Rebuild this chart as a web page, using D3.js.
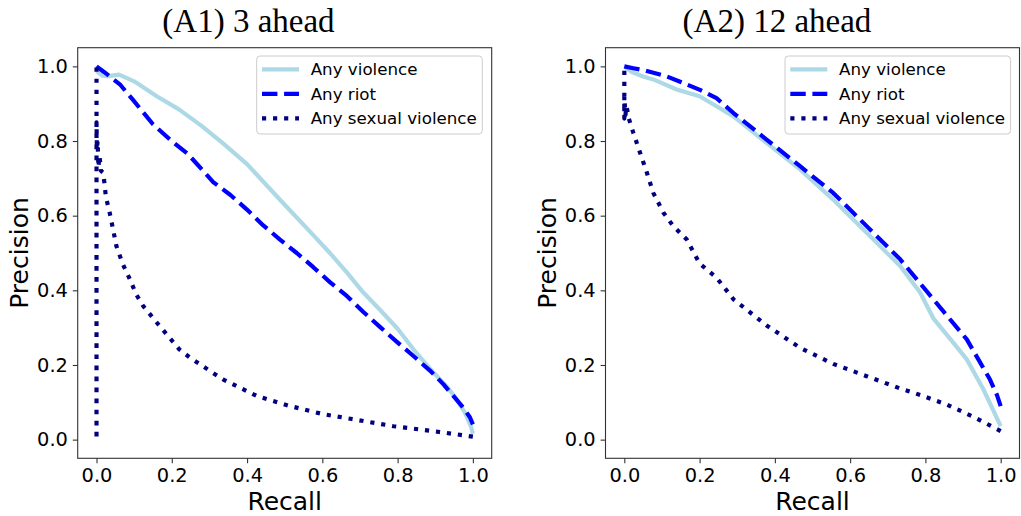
<!DOCTYPE html>
<html>
<head>
<meta charset="utf-8">
<script src="https://cdn.jsdelivr.net/npm/d3@7"></script>
<style>
  body { margin: 0; background: #fff; }
  svg { display: block; }
</style>
</head>
<body>
<svg id="chart" width="1021" height="516"></svg>
<script>
// series names, colours, dash styles
const seriesNames = ["Any violence", "Any riot", "Any sexual violence"];
const tickValues = [0.0, 0.2, 0.4, 0.6, 0.8, 1.0];

// (A1) 3 ahead : [recall, precision]
const a1Violence = [[0.0,1.0],[0.003,0.985],[0.015,0.975],[0.03,0.974],[0.06,0.978],[0.1,0.96],[0.16,0.92],
  [0.22,0.884],[0.28,0.84],[0.337,0.793],[0.4,0.738],[0.49,0.64],[0.576,0.548],[0.62,0.5],[0.665,0.448],
  [0.709,0.394],[0.753,0.348],[0.8,0.297],[0.842,0.242],[0.886,0.19],[0.931,0.142],[0.957,0.108],
  [0.98,0.07],[0.995,0.035],[1.0,0.016]];
const a1Riot = [[0.0,1.0],[0.02,0.985],[0.062,0.952],[0.097,0.91],[0.15,0.845],[0.195,0.804],[0.244,0.764],
  [0.31,0.69],[0.355,0.656],[0.399,0.617],[0.443,0.574],[0.4875,0.536],[0.532,0.5],[0.576,0.462],
  [0.62,0.422],[0.665,0.385],[0.709,0.342],[0.753,0.302],[0.798,0.262],[0.842,0.224],[0.886,0.185],
  [0.922,0.148],[0.948,0.117],[0.975,0.085],[0.992,0.06],[1.0,0.041]];
const a1Sexual = [[1.0,0.008],[0.9,0.022],[0.789,0.036],[0.674,0.056],[0.603,0.068],[0.514,0.09],[0.4255,0.117],
  [0.337,0.161],[0.3,0.185],[0.248,0.22],[0.22,0.242],[0.168,0.304],[0.124,0.358],[0.105,0.39],[0.089,0.429],
  [0.07,0.47],[0.053,0.518],[0.035,0.608],[0.025,0.65],[0.018,0.715],[0.012,0.72],[0.008,0.76],[0.005,0.73],
  [0.003,0.8],[0.001,0.78],[0.0,0.85],[0.0,0.0],[0.0,1.0]];

// (A2) 12 ahead : [recall, precision]
const a2Violence = [[0.0,1.0],[0.02,0.985],[0.05,0.973],[0.077,0.965],[0.1,0.955],[0.139,0.938],[0.2,0.92],
  [0.245,0.893],[0.29,0.866],[0.378,0.795],[0.467,0.724],[0.555,0.643],[0.644,0.554],[0.733,0.465],
  [0.786,0.394],[0.821,0.325],[0.874,0.26],[0.91,0.215],[0.954,0.135],[1.0,0.036]];
const a2Riot = [[0.0,1.0],[0.024,0.995],[0.05,0.99],[0.113,0.973],[0.15,0.958],[0.201,0.937],[0.245,0.915],
  [0.29,0.875],[0.378,0.804],[0.467,0.7325],[0.555,0.661],[0.644,0.572],[0.733,0.483],[0.821,0.376],
  [0.91,0.2685],[0.9716,0.161],[0.99,0.12],[1.0,0.09]];
const a2Sexual = [[1.0,0.023],[0.93,0.06],[0.857,0.094],[0.768,0.126],[0.733,0.137],[0.644,0.17],[0.555,0.203],
  [0.467,0.246],[0.378,0.306],[0.29,0.376],[0.245,0.434],[0.2,0.472],[0.166,0.536],[0.13,0.572],[0.104,0.608],
  [0.077,0.661],[0.06,0.715],[0.042,0.768],[0.024,0.822],[0.012,0.86],[0.006,0.893],[0.003,0.87],
  [0.0,0.92],[0.0,0.86],[0.0,1.0]];

const lw = 4.17;
const styles = [
  { color: "#add8e6", dash: null },
  { color: "#0000ff", dash: [3.7 * lw, 1.6 * lw] },
  { color: "#000080", dash: [1 * lw, 1.65 * lw] }
];

const svg = d3.select("#chart");

function drawPanel(opt) {
  const x = d3.scaleLinear().domain([-0.05, 1.05]).range([opt.left, opt.right]);
  const y = d3.scaleLinear().domain([-0.05, 1.05]).range([opt.bottom, opt.top]);
  const g = svg.append("g");

  // title
  g.append("text")
    .attr("x", opt.titleX).attr("y", 32)
    .attr("text-anchor", "middle")
    .style("font-family", "'Liberation Serif', serif")
    .style("font-size", "33px")
    .text(opt.title);

  // lines
  const line = d3.line().x(d => x(d[0])).y(d => y(d[1]));
  opt.series.forEach((data, i) => {
    g.append("path")
      .datum(data)
      .attr("d", line)
      .attr("fill", "none")
      .attr("stroke", styles[i].color)
      .attr("stroke-width", lw)
      .attr("stroke-linejoin", "round")
      .attr("stroke-dasharray", styles[i].dash ? styles[i].dash.join(",") : null);
  });

  // axes
  const xAxis = g.append("g")
    .attr("transform", "translate(0," + opt.bottom + ")")
    .call(d3.axisBottom(x).tickValues(tickValues).tickFormat(d3.format(".1f")).tickSize(4.9).tickPadding(4.9));
  const yAxis = g.append("g")
    .attr("transform", "translate(" + opt.left + ",0)")
    .call(d3.axisLeft(y).tickValues(tickValues).tickFormat(d3.format(".1f")).tickSize(4.9).tickPadding(4.9));
  [xAxis, yAxis].forEach(a => {
    a.select(".domain").remove();
    a.selectAll(".tick line").attr("stroke", "#333").attr("stroke-width", 1.1);
    a.selectAll(".tick text")
      .attr("fill", "#000")
      .style("font-family", "'DejaVu Sans', sans-serif")
      .style("font-size", "19.4px");
  });

  // frame
  g.append("rect")
    .attr("x", opt.left).attr("y", opt.top)
    .attr("width", opt.right - opt.left).attr("height", opt.bottom - opt.top)
    .attr("fill", "none").attr("stroke", "#333").attr("stroke-width", 1.1);

  // axis labels
  g.append("text")
    .attr("x", (opt.left + opt.right) / 2).attr("y", 510)
    .attr("text-anchor", "middle")
    .style("font-family", "'DejaVu Sans', sans-serif")
    .style("font-size", "25px")
    .text("Recall");
  g.append("text")
    .attr("transform", "translate(" + (opt.left - 49.7) + "," + ((opt.top + opt.bottom) / 2) + ") rotate(-90)")
    .attr("text-anchor", "middle")
    .style("font-family", "'DejaVu Sans', sans-serif")
    .style("font-size", "25px")
    .text("Precision");

  // legend
  const lg = g.append("g").attr("transform", "translate(" + opt.legendX + ",56)");
  lg.append("rect")
    .attr("width", 225.6).attr("height", 78)
    .attr("rx", 3.5)
    .attr("fill", "#fff").attr("fill-opacity", 0.8)
    .attr("stroke", "#cccccc").attr("stroke-width", 1);
  seriesNames.forEach((name, i) => {
    const cy = 13.3 + i * 24.5;
    lg.append("line")
      .attr("x1", 5.3).attr("x2", 42.3).attr("y1", cy).attr("y2", cy)
      .attr("stroke", styles[i].color)
      .attr("stroke-width", lw)
      .attr("stroke-dasharray", styles[i].dash ? styles[i].dash.join(",") : null);
    lg.append("text")
      .attr("x", 54).attr("y", cy + 6)
      .style("font-family", "'DejaVu Sans', sans-serif")
      .style("font-size", "16.7px")
      .text(name);
  });
}

drawPanel({ title: "(A1) 3 ahead", titleX: 248.5, left: 77.7, right: 491.7, top: 47.7, bottom: 458.3,
  legendX: 256.7, series: [a1Violence, a1Riot, a1Sexual] });
drawPanel({ title: "(A2) 12 ahead", titleX: 777, left: 605.5, right: 1019.5, top: 47.7, bottom: 458.3,
  legendX: 785, series: [a2Violence, a2Riot, a2Sexual] });
</script>
</body>
</html>
